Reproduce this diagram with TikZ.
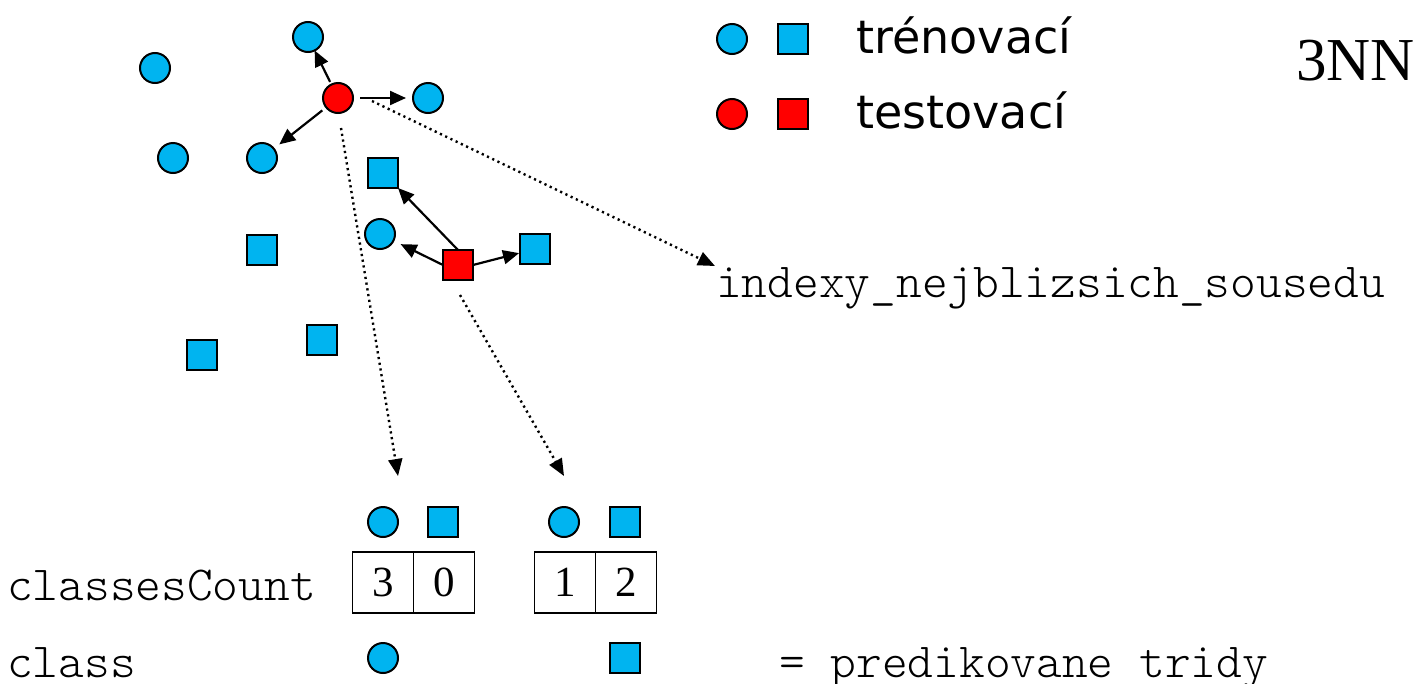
\documentclass[tikz,border=0pt]{standalone}
\usepackage{fontspec}
\usetikzlibrary{arrows.meta,calc}
\newfontfamily\legendfont{DejaVu Sans}
\newfontfamily\codefont{Latin Modern Mono Light}
\newfontfamily\numfont{Liberation Serif}
\definecolor{trainblue}{RGB}{0,180,240}
\definecolor{testred}{RGB}{255,0,0}
\tikzset{
  pt/.style={draw=black, line width=2pt, inner sep=0pt, outer sep=0pt},
  trc/.style={pt, circle, fill=trainblue, minimum size=30pt},
  trs/.style={pt, rectangle, fill=trainblue, minimum size=30pt},
  tec/.style={pt, circle, fill=testred, minimum size=30pt},
  tes/.style={pt, rectangle, fill=testred, minimum size=30pt},
  nn/.style={line width=2.2pt, -{Triangle[length=16pt,width=14pt]}},
  link/.style={line width=2.4pt, dash pattern=on 2.2pt off 3.6pt,
               -{Triangle[length=17pt,width=14pt]}},
  cell/.style={draw=black, line width=1.5pt, minimum size=61pt, inner sep=0pt,
               font=\numfont\fontsize{43}{43}\selectfont},
  code/.style={inner sep=0pt, anchor=base west, font=\codefont\fontsize{49}{49}\selectfont},
  legend/.style={inner sep=0pt, anchor=base west, font=\legendfont\fontsize{46}{46}\selectfont},
}
\begin{document}
\begin{tikzpicture}[x=1pt, y=-1pt]
\useasboundingbox (0,0) rectangle (1421,683);

% training points
\node[trc] (c1) at (155,68) {};
\node[trc] (c2) at (308,37) {};
\node[trc] (c3) at (428,98) {};
\node[trc] (c4) at (173,158) {};
\node[trc] (c5) at (262,158) {};
\node[trc] (c6) at (380,234) {};
\node[trs] (s1) at (383,173) {};
\node[trs] (s2) at (262,250) {};
\node[trs] (s3) at (535,249) {};
\node[trs] (s4) at (322,340) {};
\node[trs] (s5) at (202,355) {};

% test points
\node[tec] (rc) at (338,98) {};
\node[tes] (rs) at (458,265) {};

% three nearest neighbours of each test point
\draw[nn, shorten <=3pt] (rc) -- (c2);
\draw[nn, shorten <=7pt, shorten >=7pt] (rc) -- (c3);
\draw[nn, shorten <=5pt, shorten >=7pt] (rc) -- (c5);
\draw[nn] (rs.north) -- (s1.south east);
\draw[nn, shorten >=8pt] (rs.west) -- (c6);
\draw[nn, shorten >=1pt] (rs.east) -- (s3);

% legend
\node[trc] (lc1) at (732,39) {};
\node[trs] (ls1) at (793,39) {};
\node[tec] (lc2) at (732,114) {};
\node[tes] (ls2) at (793,114) {};
\node[legend] (ltrain) at (856,53) {trénovací};
\node[legend] (ltest) at (856,128) {testovací};

\node[inner sep=0pt, anchor=base west, font=\numfont\fontsize{61}{61}\selectfont]
  (title) at (1296,80) {3NN};

% neighbour index array
\node[code] (idx) at (716,297) {indexy\_nejblizsich\_sousedu};

% class counts
\node[trc] (h1c) at (383,522) {};
\node[trs] (h1s) at (443,522) {};
\node[trc] (h2c) at (564,522) {};
\node[trs] (h2s) at (625,522) {};
\node[cell] (a1) at (383,582.5) {3};
\node[cell] (a2) at (444,582.5) {0};
\node[cell] (b1) at (565,582.5) {1};
\node[cell] (b2) at (626,582.5) {2};

\node[code] (lcount) at (7,600) {classesCount};
\node[code] (lclass) at (7,677) {class};
\node[code] (lpred) at (779,677) {= predikovane tridy};

% predicted classes
\node[trc] (p1) at (383,658) {};
\node[trs] (p2) at (625,658) {};

% links from test points to their results
\coordinate (e1) at (398,476);
\coordinate (e2) at (564,476);
\coordinate (e3) at (715,266);
\draw[link] ($(rc)+(3,30)$) -- (e1);
\draw[link] ($(rs)+(2,30)$) -- (e2);
\draw[link] ($(rc)+(34,3)$) -- (e3);
\end{tikzpicture}
\end{document}
